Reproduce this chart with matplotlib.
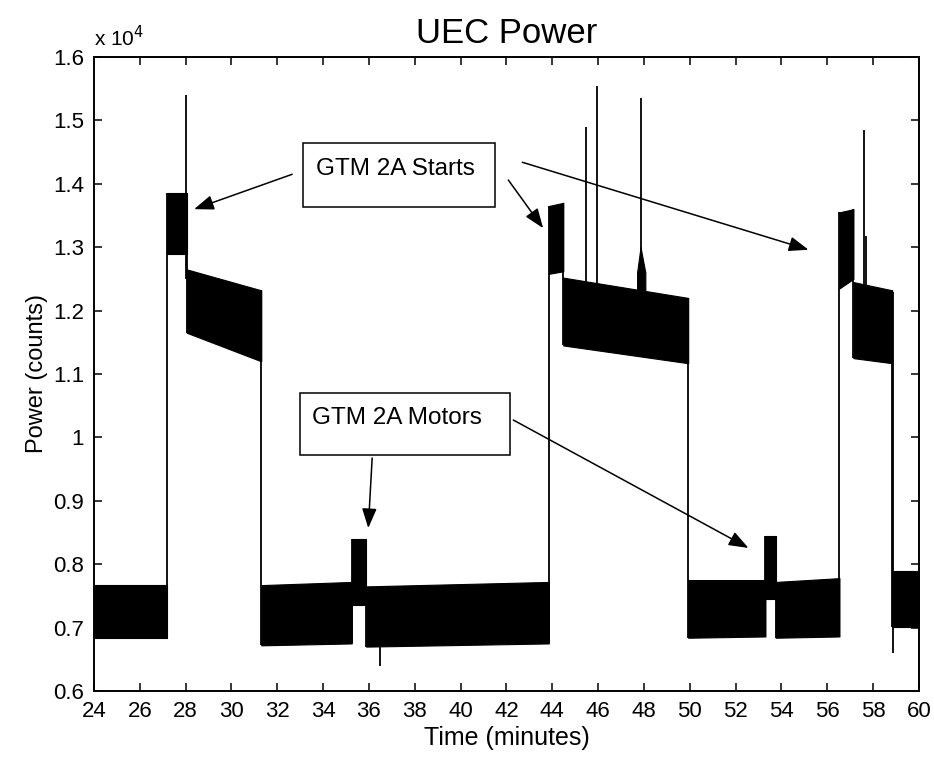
import numpy as np
import matplotlib
matplotlib.use("Agg")
import matplotlib.pyplot as plt
from matplotlib.patches import Rectangle
from matplotlib.ticker import FuncFormatter

plt.rcParams['font.family'] = ['Liberation Sans', 'DejaVu Sans']

seg_t0 = [24.0, 27.2, 28.05, 31.3, 35.25, 35.88, 43.85, 44.48, 49.93, 53.3, 53.75, 56.53, 57.14, 58.83]
seg_t1 = [27.2, 28.05, 31.3, 35.25, 35.88, 43.85, 44.48, 49.93, 53.3, 53.75, 56.53, 57.14, 58.83, 60.0]
seg_lo0 = [0.683, 1.290, 1.165, 0.672, 0.735, 0.670, 1.258, 1.145, 0.684, 0.745, 0.684, 1.235, 1.125, 0.701]
seg_lo1 = [0.683, 1.290, 1.120, 0.675, 0.735, 0.675, 1.262, 1.117, 0.686, 0.745, 0.686, 1.250, 1.117, 0.701]
seg_hi0 = [0.767, 1.385, 1.265, 0.767, 0.840, 0.765, 1.365, 1.252, 0.775, 0.845, 0.772, 1.355, 1.245, 0.790]
seg_hi1 = [0.767, 1.385, 1.232, 0.772, 0.840, 0.772, 1.370, 1.220, 0.775, 0.845, 0.778, 1.360, 1.232, 0.790]

# narrow spikes
spike_t = [28.0, 45.47, 45.97, 47.88, 57.6, 57.68, 58.85, 36.5]
spike_lo = [1.25, 1.22, 1.22, 1.22, 1.24, 1.24, 0.66, 0.64]
spike_hi = [1.54, 1.49, 1.555, 1.535, 1.485, 1.317, 1.23, 0.68]

# small hump around 48 min
hump_t = [47.7, 47.85, 48.06]
hump_hi = [1.26, 1.30, 1.26]
hump_lo = [1.143, 1.143, 1.143]

fig = plt.figure(figsize=(9.34, 7.61), dpi=100)
ax = fig.add_axes([0.1006, 0.092, 0.8833, 0.8331])

for i in range(len(seg_t0)):
    ax.fill_between([seg_t0[i], seg_t1[i]], [seg_lo0[i], seg_lo1[i]],
                    [seg_hi0[i], seg_hi1[i]], color='k', lw=0.8)
    if i > 0:
        lo = min(seg_lo0[i], seg_lo1[i - 1])
        hi = max(seg_hi0[i], seg_hi1[i - 1])
        ax.vlines(seg_t0[i], lo, hi, color='k', lw=1.3)

ax.vlines(spike_t, spike_lo, spike_hi, color='k', lw=1.3)
ax.fill_between(hump_t, hump_lo, hump_hi, color='k', lw=0.8)

# annotations
ax.add_patch(Rectangle((33.13, 1.3634), 8.38, 0.101, fill=False, ec='k', lw=1.1))
ax.text(33.69, 1.4233, 'GTM 2A Starts', fontsize=17.5, va='center', ha='left')
ax.add_patch(Rectangle((33.0, 0.972), 9.17, 0.098, fill=False, ec='k', lw=1.1))
ax.text(33.52, 1.0306, 'GTM 2A Motors', fontsize=17.5, va='center', ha='left')

aprops = dict(arrowstyle='-|>,head_length=0.8,head_width=0.3', color='k', lw=1.1,
              shrinkA=0, shrinkB=0, mutation_scale=15)
arrows = [((32.65, 1.415), (28.37, 1.360)),
          ((42.08, 1.406), (43.6, 1.330)),
          ((42.69, 1.434), (55.18, 1.296)),
          ((42.30, 1.0274), (52.56, 0.8256)),
          ((36.14, 0.9675), (35.97, 0.857))]
for start, tip in arrows:
    ax.annotate('', xy=tip, xytext=start, arrowprops=aprops)

ax.set_xlim(24, 60)
ax.set_ylim(0.6, 1.6)
ax.set_xticks(np.arange(24, 61, 2))
ax.set_yticks(np.arange(0.6, 1.61, 0.1))
ax.yaxis.set_major_formatter(FuncFormatter(lambda v, p: '%g' % round(v, 1)))
ax.tick_params(direction='in', top=True, right=True, length=6, width=1.1,
               labelsize=16, pad=7)
for s in ax.spines.values():
    s.set_linewidth(1.4)

ax.set_title('UEC Power', fontsize=25, pad=10)
ax.set_xlabel('Time (minutes)', fontsize=18, labelpad=3)
ax.set_ylabel('Power (counts)', fontsize=17)
ax.text(0.0, 1.01, r'x 10$^{4}$', transform=ax.transAxes, fontsize=15, va='bottom', ha='left')

fig.savefig('out.png', dpi=100)
